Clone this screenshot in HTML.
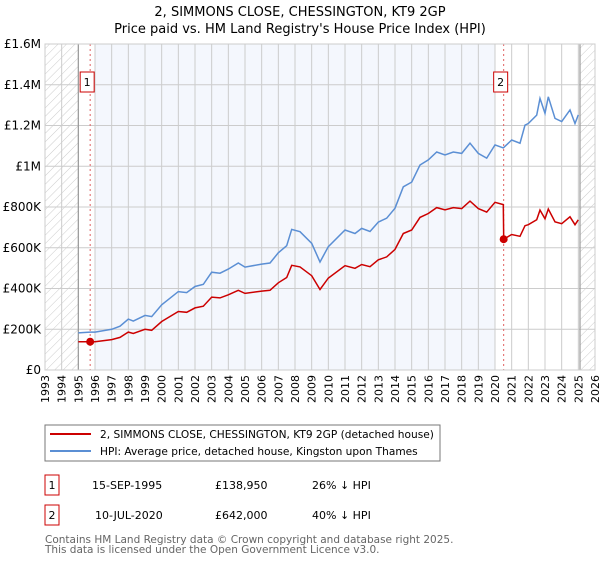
<!DOCTYPE html>
<html><head><meta charset="utf-8"><style>
body{margin:0;background:#fff;font-family:"DejaVu Sans","Liberation Sans",sans-serif;}
svg text{font-family:"DejaVu Sans","Liberation Sans",sans-serif;}
</style></head><body>
<svg id="c" width="600" height="560" xmlns="http://www.w3.org/2000/svg">
<defs><pattern id="h" width="6" height="6" patternUnits="userSpaceOnUse" patternTransform="rotate(45)"><line x1="0" y1="0" x2="0" y2="6" stroke="#ccc" stroke-width="1"/></pattern></defs>
<text x="300" y="16" text-anchor="middle" font-size="13">2, SIMMONS CLOSE, CHESSINGTON, KT9 2GP</text>
<text x="300" y="33" text-anchor="middle" font-size="13">Price paid vs. HM Land Registry's House Price Index (HPI)</text>
<g id="plot"></g>
<rect x="45" y="425" width="395" height="36" fill="#fff" stroke="#777"/>
<line x1="50" y1="434" x2="91" y2="434" stroke="#cc0000" stroke-width="2"/>
<text x="100" y="438" font-size="10.6">2, SIMMONS CLOSE, CHESSINGTON, KT9 2GP (detached house)</text>
<line x1="50" y1="451" x2="91" y2="451" stroke="#5b8fd4" stroke-width="2"/>
<text x="100" y="455" font-size="10.6">HPI: Average price, detached house, Kingston upon Thames</text>
<g>
<rect x="45" y="475" width="14" height="20" fill="none" stroke="#cc0000"/>
<text x="52" y="489" text-anchor="middle" font-size="11">1</text>
<text x="92" y="489" font-size="11">15-SEP-1995</text>
<text x="215" y="489" font-size="11">£138,950</text>
<text x="312" y="489" font-size="11">26% ↓ HPI</text>
</g>
<g>
<rect x="45" y="505" width="14" height="20" fill="none" stroke="#cc0000"/>
<text x="52" y="519" text-anchor="middle" font-size="11">2</text>
<text x="95" y="519" font-size="11">10-JUL-2020</text>
<text x="215" y="519" font-size="11">£642,000</text>
<text x="312" y="519" font-size="11">40% ↓ HPI</text>
</g>
<text x="45" y="543" font-size="10.5" fill="#666">Contains HM Land Registry data © Crown copyright and database right 2025.</text>
<text x="45" y="553" font-size="10.5" fill="#666">This data is licensed under the Open Government Licence v3.0.</text>
</svg>
<script>
const hpiYears=[1995.0,1995.7,1996.0,1997.0,1997.5,1998.0,1998.3,1999.0,1999.4,2000.0,2001.0,2001.5,2002.0,2002.5,2003.0,2003.5,2004.0,2004.6,2005.0,2006.0,2006.5,2007.0,2007.5,2007.8,2008.3,2009.0,2009.5,2010.0,2011.0,2011.6,2012.0,2012.5,2013.0,2013.5,2014.0,2014.5,2015.0,2015.5,2016.0,2016.5,2017.0,2017.5,2018.0,2018.5,2019.0,2019.5,2020.0,2020.5,2021.0,2021.5,2021.8,2022.0,2022.5,2022.7,2023.0,2023.2,2023.6,2024.0,2024.5,2024.8,2025.0];
const hpiValues=[182,186,186,200,215,250,240,268,262,320,385,380,410,420,480,475,495,525,505,520,525,575,610,690,679,622,530,605,687,670,695,680,726,745,794,899,922,1006,1031,1070,1055,1070,1063,1113,1063,1040,1105,1090,1129,1113,1202,1210,1251,1333,1260,1341,1235,1219,1276,1210,1252];
const redYears=[1995.0,1995.7,1996.0,1997.0,1997.5,1998.0,1998.3,1999.0,1999.4,2000.0,2001.0,2001.5,2002.0,2002.5,2003.0,2003.5,2004.0,2004.6,2005.0,2006.0,2006.5,2007.0,2007.5,2007.8,2008.3,2009.0,2009.5,2010.0,2011.0,2011.6,2012.0,2012.5,2013.0,2013.5,2014.0,2014.5,2015.0,2015.5,2016.0,2016.5,2017.0,2017.5,2018.0,2018.5,2019.0,2019.5,2020.0,2020.5,2020.52,2021.0,2021.5,2021.8,2022.0,2022.5,2022.7,2023.0,2023.2,2023.6,2024.0,2024.5,2024.8,2025.0];
const redValues=[139,139,139,149,160,186,179,200,195,238,287,283,305,313,358,354,369,391,376,387,391,428,454,514,506,463,395,451,512,499,518,507,541,555,592,670,687,749,768,797,786,797,792,829,792,775,823,812,642,665,656,708,713,737,785,742,790,727,718,752,713,737];
const saleYears=[1995.71,2020.52];
const saleValues=[138.95,642];
const saleLabels=["1","2"];
const yTicks=[0,200,400,600,800,1000,1200,1400,1600];
const yTickLabels=["£0","£200K","£400K","£600K","£800K","£1M","£1.2M","£1.4M","£1.6M"];
const xTicks=[];for(let y=1993;y<=2026;y++)xTicks.push(y);

const X0=45,X1=595,Y0=370,Y1=44;
const xs=y=>X0+(y-1993)/(2026-1993)*(X1-X0);
const ys=v=>Y0-v/1600*(Y0-Y1);
const NS="http://www.w3.org/2000/svg";
const g=document.getElementById('plot');
function mk(t,a){const e=document.createElementNS(NS,t);for(const k in a)e.setAttribute(k,a[k]);g.appendChild(e);return e;}
let e;
e=mk('rect',{x:X0,y:Y1,width:X1-X0,height:Y0-Y1,fill:'#fff'});


e=mk('rect',{x:xs(1996),y:Y1,width:xs(2020)-xs(1996),height:Y0-Y1,fill:'#f4f7fd'});


e=mk('rect',{x:X0,y:Y1,width:xs(1995)-X0,height:Y0-Y1,fill:'url(#h)'});


e=mk('rect',{x:xs(2025.1),y:Y1,width:X1-xs(2025.1),height:Y0-Y1,fill:'url(#h)'});


xTicks.forEach((t,i)=>{
  e=mk('line',{x1:xs(t),x2:xs(t),y1:Y1,y2:Y0,stroke:'#ccc','stroke-width':1});
  
  
  e=mk('text',{x:0,y:0,'font-size':11,'text-anchor':'end',transform:`translate(${xs(t)+4},${Y0+5}) rotate(-90)`});
  e.textContent=t;
  
  
});
yTicks.forEach((t,i)=>{
  e=mk('line',{x1:X0,x2:X1,y1:ys(t),y2:ys(t),stroke:'#ccc','stroke-width':1});
  
  
  e=mk('text',{x:X0-4,y:ys(t)+4,'font-size':12,'text-anchor':'end'});
  e.textContent=yTickLabels[i];
  
  
});
e=mk('line',{x1:xs(1995),x2:xs(1995),y1:Y1,y2:Y0,stroke:'#999','stroke-width':1.2});


e=mk('line',{x1:xs(2025.1),x2:xs(2025.1),y1:Y1,y2:Y0,stroke:'#999','stroke-width':1.2});


saleYears.forEach((s,i)=>{
  e=mk('line',{x1:xs(s),x2:xs(s),y1:Y1,y2:Y0,stroke:'#e06060','stroke-width':1,'stroke-dasharray':'2,3'});
  
  
});
function path(xa,va){return xa.map((y,i)=>(i?'L':'M')+xs(y).toFixed(1)+','+ys(va[i]).toFixed(1)).join('');}
e=mk('path',{d:path(hpiYears,hpiValues),fill:'none',stroke:'#5b8fd4','stroke-width':1.5});


e=mk('path',{d:path(redYears,redValues),fill:'none',stroke:'#cc0000','stroke-width':1.5});


saleYears.forEach((s,i)=>{
  e=mk('circle',{cx:xs(s),cy:ys(saleValues[i]),r:4,fill:'#cc0000'});
  
  
  e=mk('rect',{x:xs(s)-10,y:72,width:14,height:20,fill:'#fff',stroke:'#cc0000'});
  
  
  e=mk('text',{x:xs(s)-3,y:86,'font-size':11,'text-anchor':'middle'});
  e.textContent=saleLabels[i];
  
  
});
e=mk('rect',{x:X0,y:Y1,width:X1-X0,height:Y0-Y1,fill:'none',stroke:'#ccc'});


</script>
</body></html>
